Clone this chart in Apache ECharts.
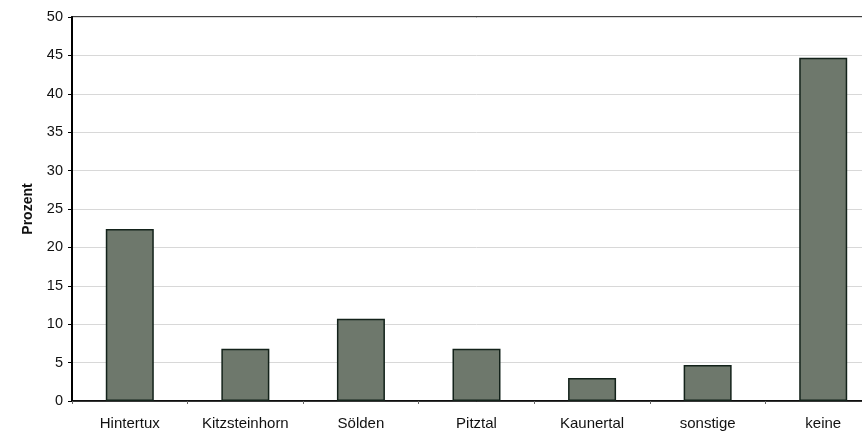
<!DOCTYPE html>
<html>
<head>
<meta charset="utf-8">
<script src="https://cdn.jsdelivr.net/npm/echarts@6/dist/echarts.min.js"></script>
<style>
  html, body { margin: 0; padding: 0; background: #fff; overflow: hidden; }
  /* the plot runs on past the right edge of the window */
  #chart { width: 881px; height: 434px; }
</style>
</head>
<body>
<div id="chart"></div>
<script>
// Gletscherskigebiete: Anteil der Nennungen in Prozent
const categories = ['Hintertux', 'Kitzsteinhorn', 'Sölden', 'Pitztal', 'Kaunertal', 'sonstige', 'keine'];
const values = [22.4, 6.8, 10.7, 6.8, 3.0, 4.7, 44.7];
const yTicks = { min: 0, max: 50, interval: 5 };
const yName = 'Prozent';

const sans = 'Liberation Sans, Arial, sans-serif';

const chart = echarts.init(document.getElementById('chart'), null, { renderer: 'canvas' });
chart.setOption({
  animation: false,
  backgroundColor: '#ffffff',
  textStyle: { fontFamily: sans },
  grid: {
    left: 72, top: 17, bottom: 33, right: 0,
    show: true, borderColor: '#000', borderWidth: 1.5, backgroundColor: 'transparent'
  },
  xAxis: {
    type: 'category',
    data: categories,
    axisLine: { lineStyle: { color: '#000', width: 1.5 } },
    axisTick: { show: true, alignWithLabel: false, length: 3, lineStyle: { color: '#666' } },
    axisLabel: { color: '#111', fontFamily: sans, fontSize: 15, margin: 15 }
  },
  yAxis: {
    type: 'value',
    min: yTicks.min, max: yTicks.max, interval: yTicks.interval,
    name: yName,
    nameLocation: 'middle',
    nameRotate: 90,
    nameGap: 37,
    nameTextStyle: { color: '#111', fontFamily: sans, fontWeight: 'bold', fontSize: 14 },
    axisLine: { show: true, lineStyle: { color: '#000', width: 2 } },
    axisTick: { show: true, length: 4, lineStyle: { color: '#000' } },
    axisLabel: { color: '#111', fontFamily: sans, fontSize: 14.5, margin: 9 },
    splitLine: { lineStyle: { color: '#d8d8d8', width: 1 } }
  },
  series: [{
    type: 'bar',
    data: values,
    barWidth: 48,
    itemStyle: { color: '#6e786c', borderColor: '#13221a', borderWidth: 1.5 }
  }]
});
</script>
</body>
</html>
